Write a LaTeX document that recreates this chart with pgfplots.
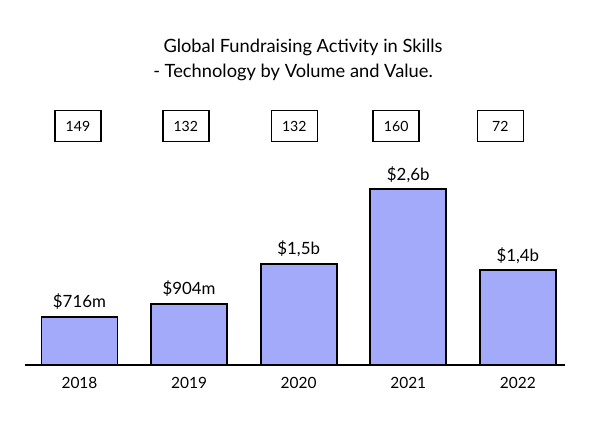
\documentclass[border=0pt]{standalone}
\usepackage{fontspec}
\setmainfont{Lato}
\usepackage{pgfplots}
\pgfplotsset{compat=1.18}
\definecolor{barblue}{RGB}{163,170,250}
\begin{document}
\begin{tikzpicture}
\path[use as bounding box] (0,0) rectangle (15cm,10.6cm);
\node[font=\fontsize{13}{15}\selectfont] at (7.575cm,9.42cm) {Global Fundraising Activity in Skills};
\node[font=\fontsize{13}{15}\selectfont] at (7.325cm,8.78cm) {- Technology by Volume and Value.};
\begin{axis}[
  at={(0.625cm,1.475cm)}, anchor=south west,
  scale only axis, width=13.5cm, height=6.625cm,
  xmin=-0.497, xmax=4.43, ymin=0, ymax=3922,
  axis x line*=bottom, axis y line=none,
  axis line style={line width=1.3pt},
  xtick={0,1,2,3,4}, xticklabels={2018,2019,2020,2021,2022},
  major tick length=0pt,
  xticklabel style={font=\fontsize{11}{13}\selectfont, yshift=-5pt},
  ytick=\empty,
  clip=false,
]
\addplot[ybar, bar width=1.9cm, fill=barblue, draw=black, line width=1.3pt,
  nodes near coords, point meta=explicit symbolic,
  every node near coord/.append style={font=\fontsize{12}{14}\selectfont, anchor=south, yshift=1pt}]
  coordinates {(0,716) [\$716m] (1,904) [\$904m] (2,1500) [\$1,5b] (3,2600) [\$2,6b] (4,1400) [\$1,4b]};
\addplot[only marks, mark=none,
  nodes near coords, point meta=explicit symbolic,
  every node near coord/.append style={draw=black, line width=1.1pt, minimum width=1.15cm, minimum height=0.78cm, anchor=center, font=\fontsize{10}{12}\selectfont}]
  coordinates {(-0.014,3537) [149] (0.97,3537) [132] (1.96,3537) [132] (2.89,3537) [160] (3.84,3537) [72]};
\end{axis}
\end{tikzpicture}
\end{document}
